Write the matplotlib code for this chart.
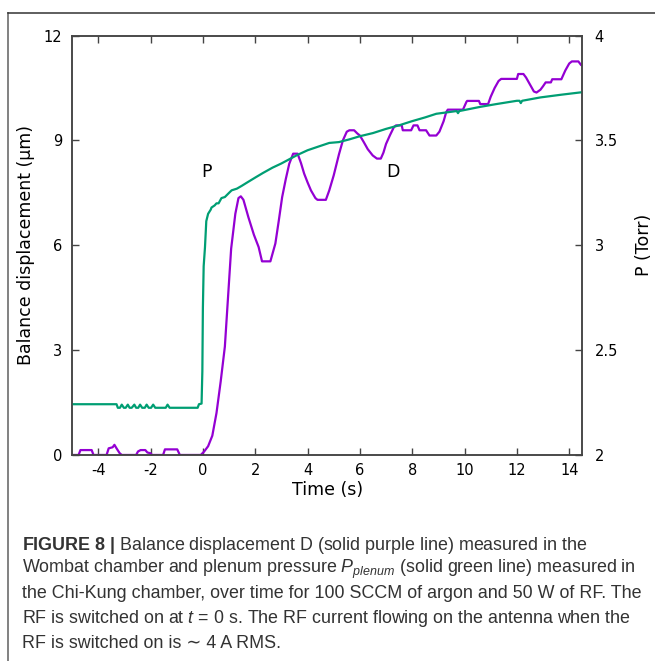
import matplotlib
matplotlib.use('Agg')
import matplotlib.pyplot as plt
from matplotlib.lines import Line2D

plt.rcParams['axes.unicode_minus'] = False

# balance displacement D (um) vs time (s)
t_disp = [-5.0, -4.75, -4.68, -4.25, -4.18, -3.68, -3.6, -3.45, -3.38, -3.3, -3.18, -3.1,
          -2.55, -2.48, -2.38, -2.2, -2.12, -2.0, -1.95, -1.52, -1.45, -0.98, -0.88, -0.08,
          0.05, 0.2, 0.36, 0.52, 0.68, 0.84, 0.96, 1.08, 1.24, 1.36, 1.45, 1.55, 1.74, 1.95,
          2.13, 2.26, 2.58, 2.77, 2.9, 3.03, 3.17, 3.3, 3.45, 3.62, 3.75, 3.87, 4.0, 4.13,
          4.3, 4.38, 4.7, 4.83, 5.0, 5.2, 5.35, 5.5, 5.6, 5.78, 5.9, 6.0, 6.15, 6.3, 6.49,
          6.65, 6.8, 6.9, 7.0, 7.15, 7.3, 7.38, 7.6, 7.64, 7.96, 8.05, 8.2, 8.28, 8.53, 8.66,
          8.92, 9.04, 9.2, 9.3, 9.36, 9.94, 10.07, 10.1, 10.55, 10.6, 10.9, 11.0, 11.15, 11.3,
          11.4, 12.0, 12.05, 12.25, 12.35, 12.5, 12.65, 12.75, 12.9, 13.0, 13.1, 13.3, 13.35,
          13.7, 13.85, 14.0, 14.1, 14.35, 14.45, 14.5]
disp = [0, 0, 0.14, 0.14, 0, 0, 0.19, 0.22, 0.29, 0.19, 0.05, 0,
        0, 0.1, 0.14, 0.14, 0.07, 0.05, 0, 0, 0.16, 0.16, 0, 0,
        0.1, 0.25, 0.55, 1.2, 2.1, 3.1, 4.5, 5.9, 6.9, 7.35, 7.4, 7.3, 6.8, 6.3,
        5.95, 5.54, 5.54, 6.05, 6.7, 7.38, 7.9, 8.33, 8.62, 8.62, 8.35, 8.05, 7.8, 7.57,
        7.35, 7.3, 7.3, 7.57, 8.0, 8.6, 9.0, 9.25, 9.29, 9.29, 9.2, 9.14, 8.95, 8.75, 8.57,
        8.48, 8.48, 8.65, 8.9, 9.15, 9.38, 9.43, 9.43, 9.29, 9.29, 9.43, 9.43, 9.29, 9.29, 9.14,
        9.14, 9.25, 9.55, 9.81, 9.88, 9.88, 10.1, 10.13, 10.13, 10.04, 10.04, 10.25, 10.5, 10.7,
        10.76, 10.76, 10.9, 10.9, 10.8, 10.6, 10.4, 10.37, 10.45, 10.55, 10.66, 10.66, 10.75,
        10.75, 11.0, 11.2, 11.26, 11.26, 11.16, 11.14]

# plenum pressure P (Torr) vs time (s)
t_pres = [-5.0, -3.3, -3.25, -3.17, -3.1, -3.02, -2.95, -2.87, -2.8, -2.72, -2.62, -2.55,
          -2.47, -2.4, -2.32, -2.22, -2.15, -2.07, -1.98, -1.9, -1.82, -1.42, -1.35, -1.27,
          -0.2, -0.15, -0.05, -0.02, 0.0, 0.03, 0.08, 0.13, 0.2, 0.3, 0.33, 0.45, 0.52, 0.6,
          0.71, 0.84, 1.0, 1.1, 1.3, 1.48, 1.7, 2.03, 2.3, 2.66, 3.0, 3.3, 3.6, 4.0, 4.4,
          4.83, 5.2, 5.6, 6.0, 6.5, 7.0, 7.5, 8.0, 8.5, 8.92, 9.4, 9.7, 9.75, 9.8, 10.0, 10.6,
          11.2, 12.0, 12.1, 12.15, 12.2, 12.9, 13.7, 14.5]
pres = [2.242, 2.242, 2.225, 2.225, 2.24, 2.225, 2.225, 2.24, 2.225, 2.225, 2.24, 2.225,
        2.225, 2.24, 2.225, 2.225, 2.24, 2.225, 2.225, 2.24, 2.225, 2.225, 2.24, 2.225,
        2.225, 2.242, 2.245, 2.4, 2.7, 2.9, 2.99, 3.115, 3.15, 3.17, 3.18, 3.19, 3.2, 3.2,
        3.225, 3.23, 3.25, 3.262, 3.27, 3.283, 3.3, 3.325, 3.345, 3.37, 3.39, 3.41, 3.43, 3.453, 3.47,
        3.488, 3.492, 3.505, 3.52, 3.535, 3.555, 3.572, 3.592, 3.61, 3.627, 3.635, 3.64, 3.63, 3.64, 3.645, 3.66,
        3.673, 3.689, 3.689, 3.678, 3.689, 3.705, 3.718, 3.73]

left_ticks = [0, 3, 6, 9, 12]
right_ticks = [2, 2.5, 3, 3.5, 4]
time_ticks = [-4, -2, 0, 2, 4, 6, 8, 10, 12, 14]

purple = '#9400d3'
green = '#009e73'
spine_c = '#444444'

fig = plt.figure(figsize=(6.55, 6.61), dpi=100)
ax = fig.add_axes([0.110, 0.3117, 0.779, 0.6345])
ax2 = ax.twinx()

ax.plot(t_disp, disp, color=purple, lw=1.6)
ax2.plot(t_pres, pres, color=green, lw=1.6)

ax.set_xlim(-5, 14.5)
ax.set_ylim(0, 12)
ax2.set_ylim(2, 4)
ax.set_xticks(time_ticks)
ax.set_yticks(left_ticks)
ax2.set_yticks(right_ticks)
ax2.set_yticklabels(['2', '2.5', '3', '3.5', '4'])

ax.tick_params(axis='x', direction='in', top=True, length=5, width=1, color=spine_c,
               labelsize=10.5, pad=6)
ax.tick_params(axis='y', direction='in', length=5, width=1, color=spine_c,
               labelsize=10.5, pad=7)
ax2.tick_params(axis='y', direction='in', length=5, width=1, color=spine_c,
                labelsize=10.5, pad=9)
for a in (ax, ax2):
    for s in a.spines.values():
        s.set_color(spine_c)
        s.set_linewidth(1.1)

ax.set_xlabel('Time (s)', fontsize=12.5, labelpad=2)
ax.set_ylabel('Balance displacement (μm)', fontsize=12.5, labelpad=6)
ax2.set_ylabel('P (Torr)', fontsize=12.5, labelpad=12)

ax.text(0.14, 8.1, 'P', fontsize=12.5, ha='center', va='center')
ax.text(7.26, 8.1, 'D', fontsize=12.5, ha='center', va='center')

# caption
plt.rcParams['mathtext.fontset'] = 'custom'
plt.rcParams['mathtext.rm'] = 'Liberation Sans'
plt.rcParams['mathtext.it'] = 'Liberation Sans:italic'
plt.rcParams['mathtext.bf'] = 'Liberation Sans:bold'
cap = [r'$\mathbf{FIGURE\ 8\ |}$ Balance displacement D (solid purple line) measured in the',
       r'Wombat chamber and plenum pressure $P_{plenum}$ (solid green line) measured in',
       'the Chi-Kung chamber, over time for 100 SCCM of argon and 50 W of RF. The',
       r'RF is switched on at $t$ = 0 s. The RF current flowing on the antenna when the',
       'RF is switched on is ∼ 4 A RMS.']
y0 = 661 - 545
for i, line in enumerate(cap):
    fig.text(22.5 / 655, (y0 - i * 24.5) / 661, line, fontsize=12.9,
             family=['Liberation Sans', 'DejaVu Sans'],
             color='#333333', va='center', ha='left')

# panel frame
fig.add_artist(Line2D([8 / 655, 8 / 655], [0, 1 - 12.7 / 661], color='#777777', lw=1.3))
fig.add_artist(Line2D([8 / 655, 1], [1 - 12.7 / 661, 1 - 12.7 / 661], color='#333333', lw=1.1))

fig.savefig('out.png', dpi=100)
